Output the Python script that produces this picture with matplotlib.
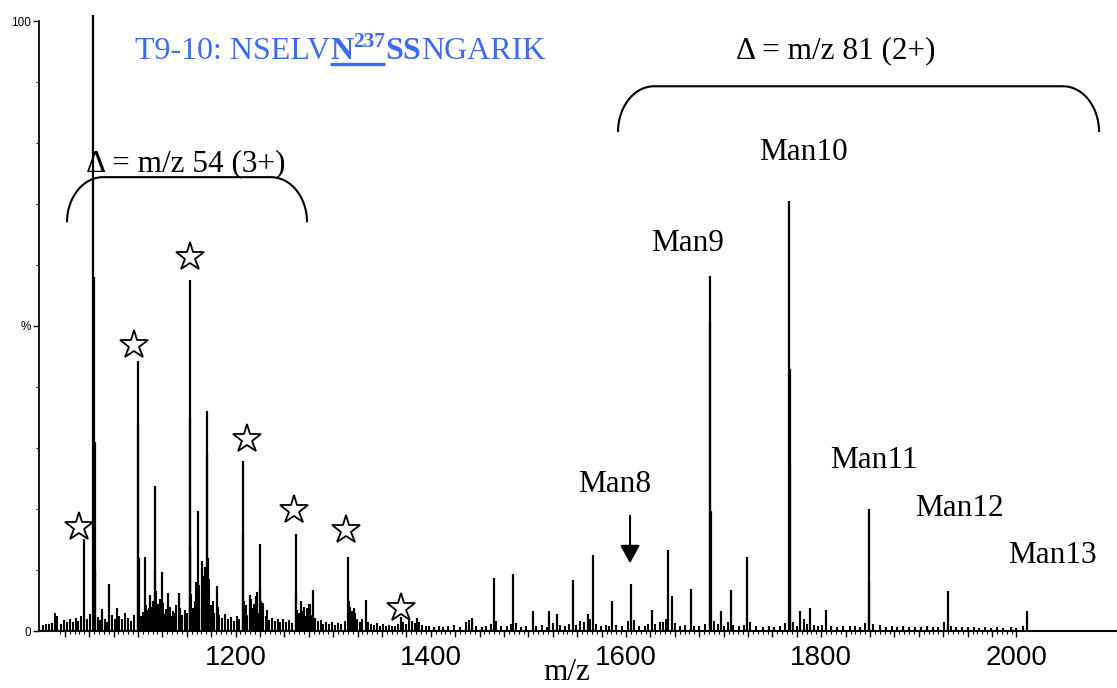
#!/bin/env python3
'''
ESI mass spectrum of the T9-10 glycopeptide with high-mannose glycoforms
'''
import matplotlib
matplotlib.use('Agg')
import matplotlib.pyplot as plt
from matplotlib.lines import Line2D
from matplotlib.ticker import FixedLocator, FixedFormatter
import numpy as np

# main peaks: m/z and relative intensity (%)
peak_mz = [1045.0, 1054.2, 1054.6, 1055.6, 1056.3, 1063.5, 1070.3, 1078.5,
           1099.7, 1100.1, 1100.6, 1107.2, 1112.3, 1117.1, 1117.5, 1124.3,
           1131.1, 1142.0, 1152.9, 1153.3, 1153.8, 1161.1, 1165.9, 1170.7,
           1171.1, 1171.6, 1180.5, 1207.3, 1207.7, 1214.8, 1220.9, 1225.0,
           1225.4, 1261.6, 1262.0, 1267.0, 1275.5, 1279.0, 1315.5, 1316.0,
           1321.3, 1333.6, 1369.5, 1385.5, 1441.8, 1464.8, 1484.6, 1504.4,
           1521.4, 1529.0, 1546.0, 1561.4, 1566.2, 1586.0, 1605.1, 1626.9,
           1643.0, 1646.8, 1666.3, 1686.1, 1686.5, 1687.0, 1697.0, 1707.3,
           1724.3, 1767.3, 1767.7, 1768.2, 1778.7, 1788.3, 1805.3, 1848.6,
           1849.0, 1929.6, 2010.9]
peak_int = [15.1, 101.0, 58.0, 31.0, 10.0, 3.6, 7.7, 3.8,
            44.2, 34.0, 12.0, 12.2, 5.9, 23.8, 10.0, 9.6,
            6.2, 6.2, 57.6, 35.0, 14.0, 19.7, 11.5, 36.1,
            29.0, 12.0, 7.3, 27.8, 16.0, 5.9, 5.7, 14.2,
            7.0, 15.9, 6.0, 4.9, 4.5, 6.7, 12.2, 5.0,
            3.7, 5.1, 2.3, 2.2, 2.2, 8.7, 9.3, 3.2,
            3.2, 2.8, 8.4, 2.8, 12.5, 4.9, 7.7, 3.4,
            13.3, 5.7, 6.9, 58.2, 50.7, 19.6, 3.2, 6.8,
            12.1, 70.5, 43.0, 27.5, 3.2, 3.8, 3.4, 20.0,
            8.0, 6.6, 3.2]

# low-level chemical noise
grass_mz = [1003, 1006, 1009, 1012, 1015, 1017, 1021, 1024, 1027, 1030, 1033,
            1036, 1039, 1042, 1048, 1051, 1059, 1061, 1066, 1068, 1073, 1076,
            1081, 1084, 1087, 1090, 1093, 1096, 1103, 1105, 1110, 1114, 1119,
            1121, 1127, 1129, 1134, 1137, 1139, 1145, 1148, 1156, 1158, 1163,
            1168, 1173, 1175, 1178, 1183, 1186, 1189, 1192, 1195, 1198, 1201,
            1204, 1210, 1212, 1217, 1219, 1223, 1228, 1231, 1234, 1237, 1240,
            1243, 1246, 1249, 1252, 1255, 1258, 1264, 1269, 1271, 1273, 1277,
            1281, 1284, 1287, 1290, 1293, 1296, 1299, 1302, 1305, 1308, 1312,
            1318, 1324, 1327, 1330, 1336, 1339, 1342, 1345, 1348, 1351, 1354,
            1357, 1360, 1363, 1366, 1372, 1375, 1378, 1381, 1384, 1388, 1391,
            1395, 1398, 1403, 1408, 1413, 1418, 1424, 1430, 1436, 1439, 1446,
            1452, 1457, 1462, 1467, 1472, 1478, 1482, 1487, 1492, 1498, 1508,
            1514, 1519, 1525, 1532, 1537, 1542, 1549, 1553, 1557, 1563, 1569,
            1574, 1579, 1583, 1590, 1596, 1602, 1608, 1613, 1619, 1623, 1630,
            1635, 1638, 1641, 1650, 1655, 1660, 1670, 1675, 1681, 1690, 1694,
            1700, 1704, 1710, 1716, 1721, 1727, 1733, 1740, 1746, 1752, 1758,
            1763, 1771, 1775, 1782, 1785, 1793, 1797, 1801, 1810, 1816, 1822,
            1829, 1835, 1840, 1845, 1853, 1860, 1866, 1872, 1878, 1884, 1890,
            1896, 1902, 1908, 1914, 1920, 1926, 1933, 1938, 1944, 1950, 1956,
            1962, 1968, 1974, 1980, 1986, 1994, 2000, 2007,
            1101.5, 1108.5, 1111, 1115.5, 1118.5, 1122.5, 1125.5, 1132.5,
            1135.5, 1143.5, 1150, 1154.5, 1159.5, 1162.5, 1167, 1169,
            1172.5, 1176.5, 1181.5, 1208.5, 1211, 1216, 1222, 1226.5,
            1232, 1263, 1265, 1270, 1276, 1317, 1319, 1322]
grass_int = [1.0, 1.2, 1.1, 1.3, 3.0, 2.5, 1.2, 1.8, 1.4, 2.0, 1.5,
             2.2, 1.7, 2.5, 1.9, 2.8, 2.3, 1.8, 2.0, 1.5, 2.6, 1.9,
             2.4, 2.0, 2.9, 2.2, 1.7, 2.6, 2.4, 3.1, 3.5, 4.0, 3.2,
             4.5, 2.8, 3.6, 2.5, 3.0, 4.2, 2.7, 3.4, 3.8, 5.0, 4.1,
             6.5, 5.5, 4.2, 3.0, 2.6, 2.1, 2.8, 1.9, 2.3, 1.7, 2.5,
             2.0, 3.2, 2.6, 3.8, 4.4, 3.0, 4.6, 2.5, 1.8, 2.2, 1.6,
             2.0, 1.5, 1.9, 1.4, 1.8, 1.3, 2.0, 3.2, 2.4, 3.8, 2.6,
             2.2, 1.6, 1.8, 1.2, 1.5, 1.1, 1.4, 1.0, 1.3, 1.1, 1.6,
             2.8, 2.0, 1.5, 1.9, 1.4, 1.2, 1.0, 1.3, 0.9, 1.1, 0.8,
             1.0, 0.9, 0.8, 1.2, 1.5, 1.2, 1.9, 1.6, 1.3, 1.5, 1.0,
             0.9, 0.8, 0.7, 0.9, 0.6, 0.8, 1.0, 0.7, 1.4, 1.8, 0.8,
             0.6, 0.9, 1.2, 1.6, 0.8, 0.9, 1.1, 1.3, 0.7, 0.9, 0.8,
             1.0, 0.7, 1.3, 1.0, 0.8, 1.2, 1.0, 1.6, 1.4, 1.9, 1.2,
             0.9, 1.0, 0.8, 1.0, 0.9, 1.6, 1.8, 0.8, 0.9, 1.2, 1.1,
             1.4, 1.5, 1.9, 1.3, 0.9, 1.0, 0.8, 0.9, 1.1, 1.6, 1.2,
             0.9, 1.5, 1.0, 0.8, 1.0, 1.4, 0.9, 0.7, 0.8, 0.6, 0.8,
             1.3, 1.4, 0.9, 1.9, 1.1, 1.0, 0.8, 1.0, 0.9, 0.7, 0.8,
             0.9, 0.8, 0.7, 1.3, 1.1, 1.0, 0.7, 0.9, 0.6, 0.8, 0.6,
             0.7, 0.6, 0.8, 0.7, 0.6, 1.4, 0.9, 0.6, 0.7, 0.6, 0.7,
             0.5, 0.6, 0.5, 0.6, 0.5, 0.6, 0.5, 0.8,
             3.0, 4.2, 3.8, 5.0, 6.5, 5.2, 4.6, 4.0,
             3.3, 3.8, 3.0, 6.0, 8.0, 7.5, 9.0, 10.5,
             8.5, 5.0, 4.0, 5.0, 4.2, 5.2, 6.4, 5.0,
             3.5, 3.5, 3.0, 4.0, 4.5, 4.0, 3.2, 3.0]

# glycoform labels (name, peak m/z)
man_names = ['Man8', 'Man9', 'Man10', 'Man11', 'Man12', 'Man13']
man_mz = [1605.1, 1686.1, 1767.3, 1848.6, 1929.6, 2010.9]
# label anchor positions (m/z, %)
man_label_pos = [(1588.7, 22.8), (1663.0, 62.3), (1781.9, 77.2),
                 (1854.1, 26.7), (1941.2, 18.9), (2037.0, 11.1)]

# starred 3+ series
star_x = [1039.5, 1095.9, 1153.3, 1211.7, 1259.8, 1313.1, 1369.5]
star_y = [17.0, 46.9, 61.3, 31.5, 19.8, 16.6, 3.8]

x_labels = [1200, 1400, 1600, 1800, 2000]

W, H = 1117, 688
blue = '#3d6cf2'
serif = 'Liberation Serif'

plt.rcParams['font.family'] = serif

fig = plt.figure(figsize=(W / 100, H / 100), dpi=100)
ax = fig.add_axes([39 / W, 57 / H, 1078 / W, 610 / H])

ax.vlines(grass_mz, 0, grass_int, color='black', lw=1.5, clip_on=False)
ax.vlines(peak_mz, 0, peak_int, color='black', lw=1.6, clip_on=False)

ax.set_xlim(998.6, 2103)
ax.set_ylim(0, 100)

for s in ('top', 'right'):
    ax.spines[s].set_visible(False)
ax.spines['left'].set_linewidth(1.3)
ax.spines['bottom'].set_linewidth(1.5)

major = np.arange(1025, 2001, 25)
ax.xaxis.set_major_locator(FixedLocator(major))
ax.xaxis.set_major_formatter(FixedFormatter(
    [str(t) if t in x_labels else '' for t in major]))
ax.xaxis.set_minor_locator(FixedLocator(np.arange(1020, 2001, 5)))
ax.tick_params(axis='x', which='major', direction='out', length=4, width=1,
               pad=6, labelsize=20)
ax.tick_params(axis='x', which='minor', direction='out', length=2.2, width=0.8)
for lab in ax.get_xticklabels():
    lab.set_family('Liberation Sans')

ax.yaxis.set_major_locator(FixedLocator([0, 50, 100]))
ax.yaxis.set_major_formatter(FixedFormatter(['0', '%', '100']))
ax.yaxis.set_minor_locator(FixedLocator(np.arange(10, 100, 10)))
ax.tick_params(axis='y', which='major', direction='out', length=4.5, width=1,
               pad=1, labelsize=8.5)
ax.tick_params(axis='y', which='minor', direction='out', length=2.2, width=0.8)
for lab in ax.get_yticklabels():
    lab.set_family('Liberation Sans')

ax.set_xlabel('m/z', fontsize=22.5)
ax.xaxis.set_label_coords((567 - 39) / 1078, (631 - 672) / 610)
ax.xaxis.label.set_va('center')


def bracket(x0, x1, top, bottom, rx, ry):
    t = np.linspace(np.pi, np.pi / 2, 40)
    lx = x0 + rx + rx * np.cos(t)
    ly = top - ry + ry * np.sin(t)
    t2 = np.linspace(np.pi / 2, 0, 40)
    rxs = x1 - rx + rx * np.cos(t2)
    rys = top - ry + ry * np.sin(t2)
    xs = np.concatenate([[x0], lx, rxs, [x1]])
    ys = np.concatenate([[bottom], ly, rys, [bottom]])
    ax.plot(xs, ys, color='black', lw=1.5, clip_on=False,
            solid_capstyle='butt')


bracket(1591.8, 2084.6, 89.3, 81.8, 36.9, 7.5)
bracket(1027.3, 1273.2, 74.4, 67.0, 36.9, 7.4)

ax.text(1815.2, 93.9, '\u0394 = m/z 81 (2+)', fontsize=22.5, ha='center',
        va='baseline', clip_on=False)
ax.text(1149.2, 75.4, '\u0394 = m/z 54 (3+)', fontsize=22.5, ha='center',
        va='baseline', clip_on=False)

for name, (lx, ly) in zip(man_names, man_label_pos):
    ax.text(lx, ly, name, fontsize=22.5, ha='center', va='baseline')

# arrow pointing at the Man8 peak
ax.annotate('', xy=(man_mz[0] - 1, 11.1), xytext=(man_mz[0] - 1, 18.9),
            arrowprops=dict(arrowstyle='-|>,head_length=0.55,head_width=0.3',
                            mutation_scale=20, color='black', lw=1.5,
                            shrinkA=0, shrinkB=0))

ax.plot(star_x, star_y, ls='none', marker='*', ms=21, mfc='white',
        mec='black', mew=1.3, clip_on=False)

# peptide sequence title, built from runs of differently styled text
renderer = fig.canvas.get_renderer()
runs = [('T9-10: NSELV', 'normal', 23, 0),
        ('N', 'bold', 23, 0),
        ('237', 'bold', 15.5, 12),
        ('SS', 'bold', 23, 0),
        ('NGARIK', 'normal', 23, 0)]
x = 135.0
base = 59.0
spans = []
for txt, weight, size, rise in runs:
    t = fig.text(x / W, 1 - (base - rise) / H, txt, fontsize=size,
                 fontweight=weight, color=blue, family=serif,
                 ha='left', va='baseline')
    w = t.get_window_extent(renderer).width
    spans.append((x, x + w))
    x += w
ul_y = 1 - 63.5 / H
fig.add_artist(Line2D([spans[1][0] / W, spans[2][1] / W], [ul_y, ul_y],
                      transform=fig.transFigure, color=blue, lw=2.4,
                      solid_capstyle='butt'))

fig.savefig('out.png', dpi=100)
